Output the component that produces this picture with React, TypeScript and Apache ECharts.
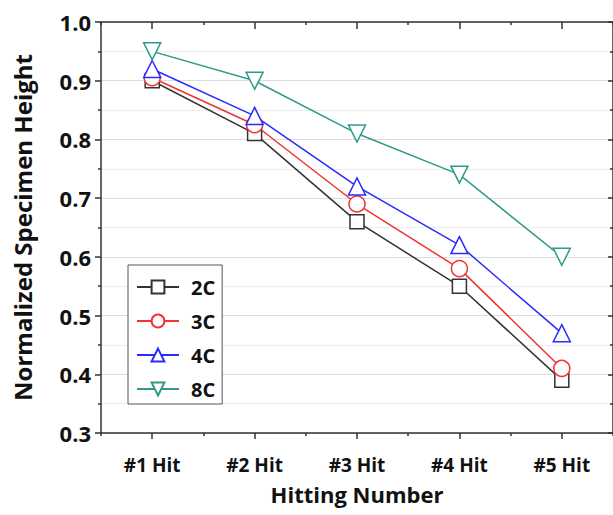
import React, { useEffect, useRef } from "react";
import * as echarts from "echarts";

const categories = ["#1 Hit", "#2 Hit", "#3 Hit", "#4 Hit", "#5 Hit"];
const s2C = [0.9, 0.81, 0.66, 0.55, 0.39];
const s3C = [0.905, 0.825, 0.69, 0.58, 0.41];
const s4C = [0.92, 0.84, 0.72, 0.62, 0.47];
const s8C = [0.95, 0.9, 0.81, 0.74, 0.6];
const seriesNames = ["2C", "3C", "4C", "8C"];
const yTicks = { min: 0.3, max: 1.0, interval: 0.1 };

const FONT = "'Open Sans', Lato, sans-serif";
const AX = "#333";

export default function App() {
  const ref = useRef<HTMLDivElement>(null);
  useEffect(() => {
    if (!ref.current) return;
    const chart = echarts.init(ref.current, null, { renderer: "svg" });
    const mk = (name: string, data: number[], color: string, symbol: string, size: number, rotate = 0) => ({
      name,
      type: "line",
      data,
      xAxisIndex: 0,
      yAxisIndex: 0,
      symbol,
      symbolSize: size,
      symbolRotate: rotate,
      showAllSymbol: true,
      lineStyle: { color, width: 1.5 },
      itemStyle: { color: "#fff", borderColor: color, borderWidth: 1.5 },
      z: 3,
    });
    const tickCat = (position: string, inside: boolean, len: number, align: boolean, showLine: boolean) => ({
      type: "category",
      data: categories,
      position,
      boundaryGap: true,
      axisLine: { show: showLine, lineStyle: { color: AX, width: 1.5 } },
      axisTick: { show: true, inside, length: len, alignWithLabel: align, lineStyle: { color: AX, width: 1.5 } },
      axisLabel: { show: false },
      splitLine: { show: false },
    });
    chart.setOption({
      animation: false,
      backgroundColor: "#fff",
      textStyle: { fontFamily: FONT },
      grid: { left: 101, top: 22, right: 0, bottom: 82, containLabel: false },
      legend: {
        orient: "vertical",
        left: 128,
        top: 265,
        data: seriesNames,
        itemWidth: 42,
        itemHeight: 16,
        itemGap: 14,
        padding: [12, 7, 5, 8],
        borderColor: "#555",
        borderWidth: 1,
        backgroundColor: "#fff",
        textStyle: {
          fontFamily: FONT,
          fontWeight: "bold",
          fontSize: 20,
          color: "#111",
          padding: [0, 0, 0, 7],
        },
      },
      xAxis: [
        {
          type: "category",
          data: categories,
          position: "bottom",
          boundaryGap: true,
          name: "Hitting Number",
          nameLocation: "middle",
          nameGap: 50,
          nameTextStyle: { fontFamily: FONT, fontWeight: "bold", fontSize: 22, color: "#111" },
          axisLine: { lineStyle: { color: AX, width: 1.5 } },
          axisTick: { show: true, alignWithLabel: true, length: 6, lineStyle: { color: AX, width: 1.5 } },
          axisLabel: { fontFamily: FONT, fontWeight: "bold", fontSize: 19, color: "#111", margin: 22 },
          splitLine: { show: false },
        },
        tickCat("bottom", false, 3, false, false),
        tickCat("top", true, 7, true, true),
        tickCat("top", true, 3, false, false),
      ],
      yAxis: [
        {
          type: "value",
          min: yTicks.min,
          max: yTicks.max,
          interval: yTicks.interval,
          position: "left",
          name: "Normalized Specimen Height",
          nameLocation: "middle",
          nameGap: 67,
          nameTextStyle: { fontFamily: FONT, fontWeight: "bold", fontSize: 24, color: "#111" },
          axisLine: { show: true, lineStyle: { color: AX, width: 1.5 } },
          axisTick: { show: true, length: 6, lineStyle: { color: AX, width: 1.5 } },
          minorTick: { show: true, splitNumber: 2, length: 3, lineStyle: { color: AX, width: 1.5 } },
          axisLabel: {
            fontFamily: FONT,
            fontWeight: "bold",
            fontSize: 22,
            color: "#111",
            margin: 10,
            formatter: (v: number) => v.toFixed(1),
          },
          splitLine: { show: true, lineStyle: { color: "#dcdcdc", width: 1.2 } },
          minorSplitLine: { show: true, lineStyle: { color: "#ececec", width: 1 } },
        },
        {
          type: "value",
          min: yTicks.min,
          max: yTicks.max,
          interval: yTicks.interval,
          position: "right",
          axisLine: { show: true, lineStyle: { color: AX, width: 1.5 } },
          axisTick: { show: true, inside: true, length: 5, lineStyle: { color: AX, width: 1.5 } },
          minorTick: { show: true, splitNumber: 2, length: 3, lineStyle: { color: AX, width: 1.5 } },
          axisLabel: { show: false },
          splitLine: { show: false },
        },
      ],
      series: [
        mk("2C", s2C, "#333333", "rect", 14),
        mk("3C", s3C, "#f03333", "circle", 16),
        mk("4C", s4C, "#2a2aff", "triangle", 17),
        mk("8C", s8C, "#2e9a8a", "triangle", 17, 180),
      ],
    });
    return () => chart.dispose();
  }, []);
  return <div ref={ref} style={{ position: "fixed", left: 0, top: 0, width: 613, height: 515 }} />;
}
